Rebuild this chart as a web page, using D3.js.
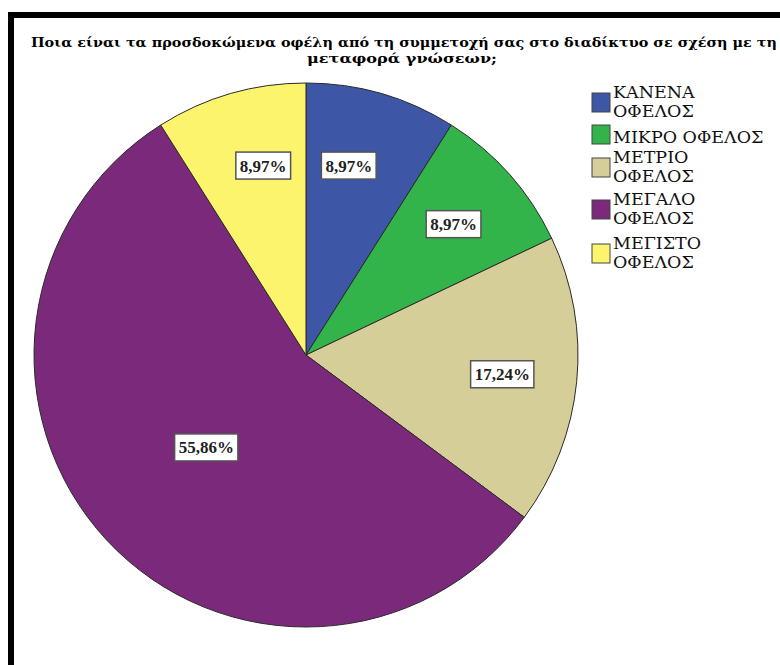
<!DOCTYPE html>
<html>
<head>
<meta charset="utf-8">
<script src="https://cdn.jsdelivr.net/npm/d3@7"></script>
<style>
  html, body { margin: 0; padding: 0; background: #fff; }
  svg { display: block; }
</style>
</head>
<body>
<svg id="chart" width="780" height="665"></svg>
<script>
const titleLines = [
  "Ποια είναι τα προσδοκώμενα οφέλη από τη συμμετοχή σας στο διαδίκτυο σε σχέση με τη",
  "μεταφορά γνώσεων;"
];
const categories = ["ΚΑΝΕΝΑ ΟΦΕΛΟΣ", "ΜΙΚΡΟ ΟΦΕΛΟΣ", "ΜΕΤΡΙΟ ΟΦΕΛΟΣ", "ΜΕΓΑΛΟ ΟΦΕΛΟΣ", "ΜΕΓΙΣΤΟ ΟΦΕΛΟΣ"];
const legendLines = [["ΚΑΝΕΝΑ", "ΟΦΕΛΟΣ"], ["ΜΙΚΡΟ ΟΦΕΛΟΣ"], ["ΜΕΤΡΙΟ", "ΟΦΕΛΟΣ"], ["ΜΕΓΑΛΟ", "ΟΦΕΛΟΣ"], ["ΜΕΓΙΣΤΟ", "ΟΦΕΛΟΣ"]];
const values = [8.97, 8.97, 17.24, 55.86, 8.97];
const valueLabels = ["8,97%", "8,97%", "17,24%", "55,86%", "8,97%"];
const colors = ["#3d56a6", "#33b44a", "#d5ce98", "#7b2a7b", "#fcf46c"];

const svg = d3.select("#chart");
const serif = "DejaVu Serif, serif";
const serifNum = "Liberation Serif, DejaVu Serif, serif";

// frame
svg.append("path")
  .attr("d", "M11,668 L11,15 L783,15")
  .attr("fill", "none").attr("stroke", "#000").attr("stroke-width", 6);

// title
svg.append("text").attr("x", 404).attr("y", 47)
  .attr("text-anchor", "middle").style("font-family", serif)
  .attr("font-weight", "bold").attr("font-size", 13)
  .attr("textLength", 746).attr("lengthAdjust", "spacingAndGlyphs")
  .text(titleLines[0]);
svg.append("text").attr("x", 402).attr("y", 63)
  .attr("text-anchor", "middle").style("font-family", serif)
  .attr("font-weight", "bold").attr("font-size", 13)
  .attr("textLength", 190).attr("lengthAdjust", "spacingAndGlyphs")
  .text(titleLines[1]);

// pie
const cx = 306, cy = 355, R = 272;
const color = d3.scaleOrdinal().domain(categories).range(colors);
const pie = d3.pie().sort(null).value(d => d.value);
const data = categories.map((c, i) => ({ cat: c, value: values[i], label: valueLabels[i] }));
const arcs = pie(data);
const arc = d3.arc().innerRadius(0).outerRadius(R);

const g = svg.append("g").attr("transform", `translate(${cx},${cy})`);
g.selectAll("path.slice").data(arcs).enter().append("path")
  .attr("class", "slice")
  .attr("d", arc)
  .attr("fill", d => color(d.data.cat))
  .attr("stroke", "#2a2a2a").attr("stroke-width", 1);

// labels
const labelArcSmall = d3.arc().innerRadius(0).outerRadius(R * 1.45);
const labelArcBig = d3.arc().innerRadius(0).outerRadius(R * 1.0);
const lg = g.selectAll("g.lbl").data(arcs).enter().append("g").attr("class", "lbl")
  .attr("transform", d => {
    const share = d.data.value / 100;
    let [x, y] = (share > 0.4 ? labelArcBig : labelArcSmall).centroid(d);
    if (Math.abs(x) < 80 && y < -150) x *= 0.78;
    return `translate(${x},${y})`;
  });
lg.append("text")
  .attr("text-anchor", "middle").attr("dy", "0.35em")
  .style("font-family", serifNum).attr("font-weight", "bold").attr("font-size", 17)
  .attr("fill", "#222")
  .text(d => d.data.label);
lg.each(function() {
  const t = d3.select(this).select("text").node().getBBox();
  d3.select(this).insert("rect", "text")
    .attr("x", t.x - 4).attr("y", -13.5)
    .attr("width", t.width + 8).attr("height", 27)
    .attr("fill", "#fff").attr("stroke", "#555").attr("stroke-width", 1.5);
});

// legend
const legendTops = [93, 125, 158, 200, 244];
const leg = svg.append("g");
legendLines.forEach((lines, i) => {
  const y0 = legendTops[i];
  leg.append("rect").attr("x", 592).attr("y", y0)
    .attr("width", 18).attr("height", 19)
    .attr("fill", colors[i]).attr("stroke", "#444").attr("stroke-width", 1);
  const t = leg.append("text").style("font-family", serif).attr("font-size", 17.5).attr("fill", "#111");
  const first = lines.length === 2 ? y0 + 5 : y0 + 18;
  lines.forEach((ln, j) => {
    t.append("tspan").attr("x", 613).attr("y", first + j * 19).text(ln);
  });
});
</script>
</body>
</html>
